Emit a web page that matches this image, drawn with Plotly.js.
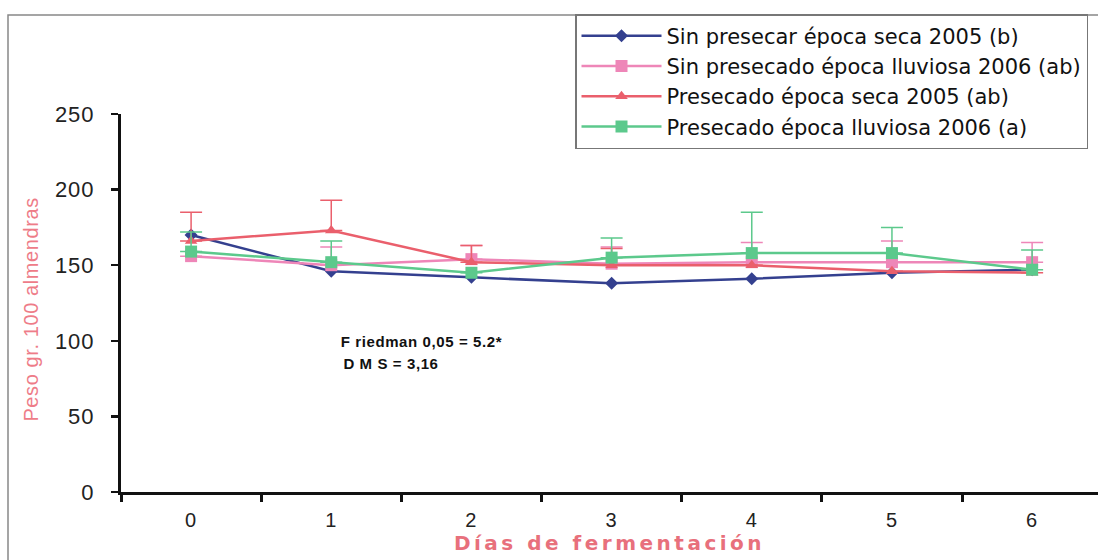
<!DOCTYPE html>
<html>
<head>
<meta charset="utf-8">
<script src="https://cdn.plot.ly/plotly-3.0.1.min.js"></script>
<style>
  html, body { margin: 0; padding: 0; background: #fff; }
  #chart { width: 1098px; height: 560px; }
  /* wide, loosely tracked lettering */
  #chart .xtitle { letter-spacing: 3.5px; }
  #chart .annotation-text { letter-spacing: 0.6px; }
  #chart .ytick text, #chart .xtick text { letter-spacing: 1px; }
</style>
</head>
<body>
<div id="chart"></div>
<script>
// Días de fermentación
const dias = ["0", "1", "2", "3", "4", "5", "6"];

// Peso (g) de 100 almendras por tratamiento
const sinPresecarSeca2005 = [170, 146, 142, 138, 141, 145, 147];
const sinPresecadoLluviosa2006 = [156, 150, 154, 151, 152, 152, 152];
const presecadoSeca2005 = [166, 173, 152, 150, 150, 146, 145];
const presecadoLluviosa2006 = [159, 152, 145, 155, 158, 158, 147];

// Barras de error (solo hacia arriba)
const errSinPresecadoLluviosa2006 = [0, 12, 9, 11, 13, 14, 13];
const errPresecadoSeca2005 = [19, 20, 11, 11, 0, 0, 0];
const errPresecadoLluviosa2006 = [13, 14, 0, 13, 27, 17, 13];

const nombres = [
  "Sin presecar época seca 2005 (b)",
  "Sin presecado época lluviosa 2006 (ab)",
  "Presecado época seca 2005 (ab)",
  "Presecado época lluviosa 2006 (a)"
];

const colores = ["#34408f", "#ee86b8", "#ea5f6c", "#5cc98c"];

function serie(i, y, err, simbolo, tam) {
  const t = {
    x: dias, y: y, name: nombres[i], type: "scatter", mode: "lines+markers",
    line: { color: colores[i], width: 2.5 },
    marker: { color: colores[i], symbol: simbolo, size: tam }
  };
  if (err) {
    t.error_y = {
      type: "data", symmetric: false, array: err,
      arrayminus: err.map(() => 0),
      color: colores[i], thickness: 1.5, width: 11
    };
  }
  return t;
}

const data = [
  serie(0, sinPresecarSeca2005, null, "diamond", 10),
  serie(1, sinPresecadoLluviosa2006, errSinPresecadoLluviosa2006, "square", 12),
  serie(2, presecadoSeca2005, errPresecadoSeca2005, "triangle-up", 11),
  serie(3, presecadoLluviosa2006, errPresecadoLluviosa2006, "square", 12)
];

const fuente = "Liberation Sans, Arial, sans-serif";
const fuenteAncha = "DejaVu Sans, Verdana, sans-serif";

// plot area in pixels: left 121, width 977, top 114, height 378
const px = (x) => (x - 121) / 977;
const py = (y) => (492 - y) / 378;

const layout = {
  width: 1098, height: 560,
  margin: { l: 121, r: 0, t: 114, b: 68 },
  paper_bgcolor: "#ffffff", plot_bgcolor: "#ffffff",
  font: { family: fuente, color: "#222" },
  showlegend: true,
  legend: {
    x: px(575), xref: "paper", y: py(14), yanchor: "top",
    bgcolor: "#ffffff", bordercolor: "#777", borderwidth: 1.5,
    font: { family: fuenteAncha, size: 21, color: "#111" },
    traceorder: "normal",
    itemwidth: 80,
    entrywidth: 540, entrywidthmode: "pixels"
  },
  xaxis: {
    type: "category", range: [-0.5, 6.47],
    tickson: "boundaries", ticks: "outside", ticklen: 7, tickwidth: 3,
    tickcolor: "#111", ticklabelstandoff: 8,
    showline: true, linecolor: "#111", linewidth: 3,
    showgrid: false, zeroline: false,
    tickfont: { size: 20, color: "#222" },
    title: {
      text: "<b>Días de fermentación</b>",
      font: { family: fuenteAncha, size: 20, color: "#e8707c" }, standoff: 4
    }
  },
  yaxis: {
    range: [0, 250], tickvals: [0, 50, 100, 150, 200, 250],
    ticks: "outside", ticklen: 7, tickwidth: 2.5, tickcolor: "#111",
    ticklabelstandoff: 12,
    showline: true, linecolor: "#111", linewidth: 3,
    showgrid: false, zeroline: false,
    tickfont: { size: 22, color: "#222" }
  },
  annotations: [
    {
      xref: "paper", yref: "paper", x: px(31), y: py(310),
      xanchor: "center", yanchor: "middle", showarrow: false, textangle: -90,
      text: "Peso gr. 100 almendras",
      font: { family: fuente, size: 20, color: "#ee7c88" }
    },
    {
      xref: "paper", yref: "paper", x: px(345), y: py(341),
      xanchor: "left", yanchor: "middle", showarrow: false,
      text: "<b>F riedman 0,05 = 5.2*</b>",
      font: { family: fuente, size: 15, color: "#111" }
    },
    {
      xref: "paper", yref: "paper", x: px(345), y: py(363),
      xanchor: "left", yanchor: "middle", showarrow: false,
      text: "<b>D M S = 3,16</b>",
      font: { family: fuente, size: 15, color: "#111" }
    }
  ],
  shapes: [
    {
      type: "rect", xref: "paper", yref: "paper",
      x0: px(8), x1: 1.05, y0: -0.3, y1: py(15),
      line: { color: "#888", width: 1.5 }, fillcolor: "rgba(0,0,0,0)",
      layer: "below"
    }
  ]
};

Plotly.newPlot("chart", data, layout, { displayModeBar: false, staticPlot: true });
</script>
</body>
</html>
